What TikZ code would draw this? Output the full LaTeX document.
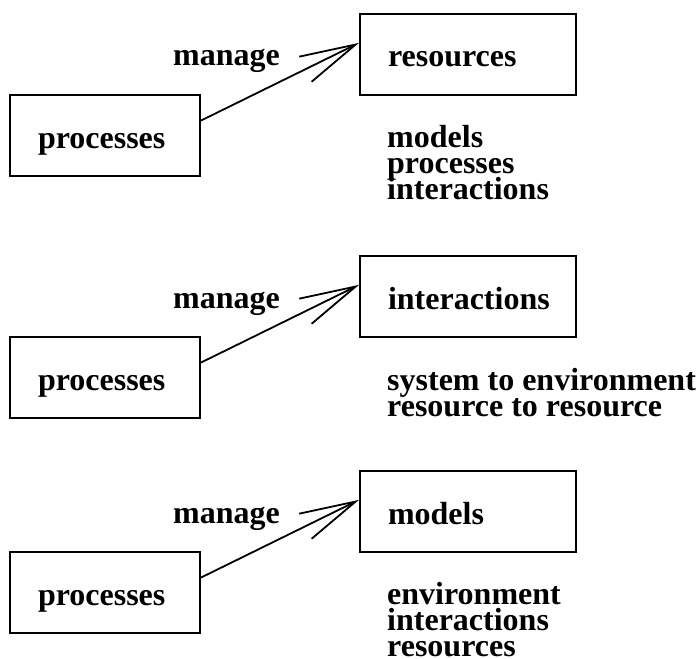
\documentclass[tikz,border=0pt]{standalone}
\usepackage{fontspec}
\setmainfont{Liberation Serif}
\usetikzlibrary{arrows.meta,calc}
\begin{document}
\begin{tikzpicture}[x=1pt,y=-1pt,
  lbl/.style={font=\fontsize{32}{26}\selectfont\bfseries, inner sep=0pt, anchor=base west},
  box/.style={draw, line width=2pt, font=\fontsize{32}{26}\selectfont\bfseries,
    inner xsep=28pt, inner ysep=0pt, minimum height=81pt,
    text height=25pt, text depth=0pt, align=left, anchor=north west},
  leftbox/.style={box, text width=134pt},
  rightbox/.style={box, text width=160pt},
  arr/.style={line width=1.8pt, -{Straight Barb[length=56pt,width=28pt]}}]
\path[use as bounding box] (0,0) rectangle (700,658);

% panel 1
\node[leftbox]  (p1) at (9,94) {processes};
\node[rightbox] (r1) at (359,13) {resources};
\draw[arr] ($(p1.north east)!0.32!(p1.south east)$) -- ($(r1.north west)!0.36!(r1.south west)$);
\node[lbl] (m1) at (173,66) {manage};
\node[lbl] (l1a) at (387,147) {models};
\node[lbl] (l1b) at (387,173) {processes};
\node[lbl] (l1c) at (387,199) {interactions};

% panel 2
\node[leftbox]  (p2) at (9,336) {processes};
\node[rightbox] (r2) at (359,255) {interactions};
\draw[arr] ($(p2.north east)!0.32!(p2.south east)$) -- ($(r2.north west)!0.36!(r2.south west)$);
\node[lbl] (m2) at (173,308) {manage};
\node[lbl] (l2a) at (387,390) {system to environment};
\node[lbl] (l2b) at (387,416) {resource to resource};

% panel 3
\node[leftbox]  (p3) at (9,551) {processes};
\node[rightbox] (r3) at (359,470) {models};
\draw[arr] ($(p3.north east)!0.32!(p3.south east)$) -- ($(r3.north west)!0.36!(r3.south west)$);
\node[lbl] (m3) at (173,523) {manage};
\node[lbl] (l3a) at (387,604) {environment};
\node[lbl] (l3b) at (387,630) {interactions};
\node[lbl] (l3c) at (387,656) {resources};
\end{tikzpicture}
\end{document}
